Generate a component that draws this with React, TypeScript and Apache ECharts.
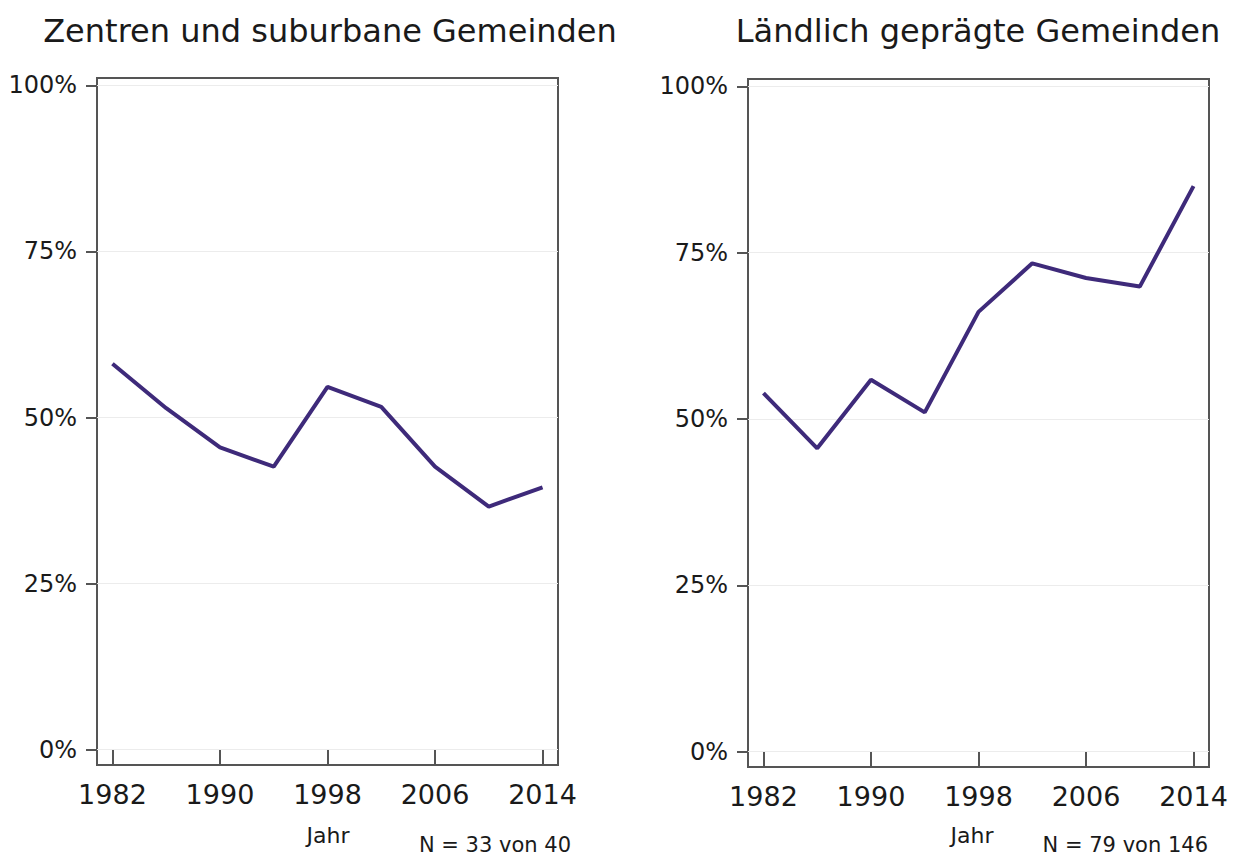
import React, { useEffect, useRef } from "react";
import * as echarts from "echarts";

const years = [1982, 1986, 1990, 1994, 1998, 2002, 2006, 2010, 2014];
const zentren = [58.1, 51.4, 45.5, 42.6, 54.6, 51.6, 42.6, 36.6, 39.5];
const laendlich = [53.9, 45.6, 55.9, 51.0, 66.1, 73.4, 71.2, 69.9, 85.0];
const xTicks = [1982, 1990, 1998, 2006, 2014];
const yTicks = [0, 25, 50, 75, 100];
const titles = ["Zentren und suburbane Gemeinden", "Ländlich geprägte Gemeinden"];
const notes = ["N = 33 von 40", "N = 79 von 146"];
const xName = "Jahr";

const FONT = "DejaVu Sans";
const LINE = "#3e2a7a";
const FRAME = "#555555";

export default function App() {
  const ref = useRef<HTMLDivElement>(null);
  useEffect(() => {
    document.body.style.margin = "0";
    const chart = echarts.init(ref.current!, null, { renderer: "svg" });
    const mkX = (i: number) => ({
      type: "value",
      gridIndex: i,
      min: 1980.85,
      max: 2015.15,
      axisLine: { show: false },
      splitLine: { show: false },
      axisTick: {
        show: true,
        customValues: xTicks,
        length: 15,
        inside: false,
        lineStyle: { color: FRAME, width: 2 },
      },
      axisLabel: {
        customValues: xTicks,
        margin: 16,
        fontFamily: FONT,
        fontSize: 27,
        color: "#1a1a1a",
        formatter: (v: number) => String(v),
      },
    });
    const mkY = (i: number) => ({
      type: "value",
      gridIndex: i,
      min: -2.3,
      max: 101.1,
      axisLine: { show: false },
      splitLine: { show: false },
      axisTick: {
        show: true,
        customValues: yTicks,
        length: 11,
        lineStyle: { color: FRAME, width: 2 },
      },
      axisLabel: {
        customValues: yTicks,
        margin: 20,
        fontFamily: FONT,
        fontSize: 24,
        color: "#1a1a1a",
        formatter: (v: number) => v + "%",
      },
    });
    const mkSeries = (i: number, vals: number[]) => ({
      type: "line",
      xAxisIndex: i,
      yAxisIndex: i,
      data: years.map((y, k) => [y, vals[k]]),
      showSymbol: false,
      symbol: "none",
      lineStyle: { color: LINE, width: 4 },
      itemStyle: { color: LINE },
      z: 5,
      markLine: {
        silent: true,
        symbol: "none",
        label: { show: false },
        lineStyle: { color: "#ececec", type: "solid", width: 1 },
        data: yTicks.map((t) => ({ yAxis: t })),
        z: 1,
      },
    });
    chart.setOption({
      animation: false,
      backgroundColor: "#ffffff",
      grid: [
        { left: 97, top: 78, width: 461, height: 687, show: true, borderColor: FRAME, borderWidth: 2, backgroundColor: "transparent" },
        { left: 748, top: 79, width: 461, height: 688, show: true, borderColor: FRAME, borderWidth: 2, backgroundColor: "transparent" },
      ],
      xAxis: [mkX(0), mkX(1)],
      yAxis: [mkY(0), mkY(1)],
      series: [mkSeries(0, zentren), mkSeries(1, laendlich)],
      graphic: [
        { type: "text", x: 330, y: 31, style: { text: titles[0], fontFamily: FONT, fontSize: 32, fill: "#1a1a1a", align: "center", verticalAlign: "middle" } },
        { type: "text", x: 978, y: 31, style: { text: titles[1], fontFamily: FONT, fontSize: 32, fill: "#1a1a1a", align: "center", verticalAlign: "middle" } },
        { type: "text", x: 328, y: 835, style: { text: xName, fontFamily: FONT, fontSize: 22, fill: "#1a1a1a", align: "center", verticalAlign: "middle" } },
        { type: "text", x: 972, y: 835, style: { text: xName, fontFamily: FONT, fontSize: 22, fill: "#1a1a1a", align: "center", verticalAlign: "middle" } },
        { type: "text", x: 571, y: 845, style: { text: notes[0], fontFamily: FONT, fontSize: 21, fill: "#1a1a1a", align: "right", verticalAlign: "middle" } },
        { type: "text", x: 1208, y: 845, style: { text: notes[1], fontFamily: FONT, fontSize: 21, fill: "#1a1a1a", align: "right", verticalAlign: "middle" } },
      ],
    });
    return () => chart.dispose();
  }, []);
  return <div ref={ref} style={{ position: "fixed", left: 0, top: 0, width: 1236, height: 859 }} />;
}
